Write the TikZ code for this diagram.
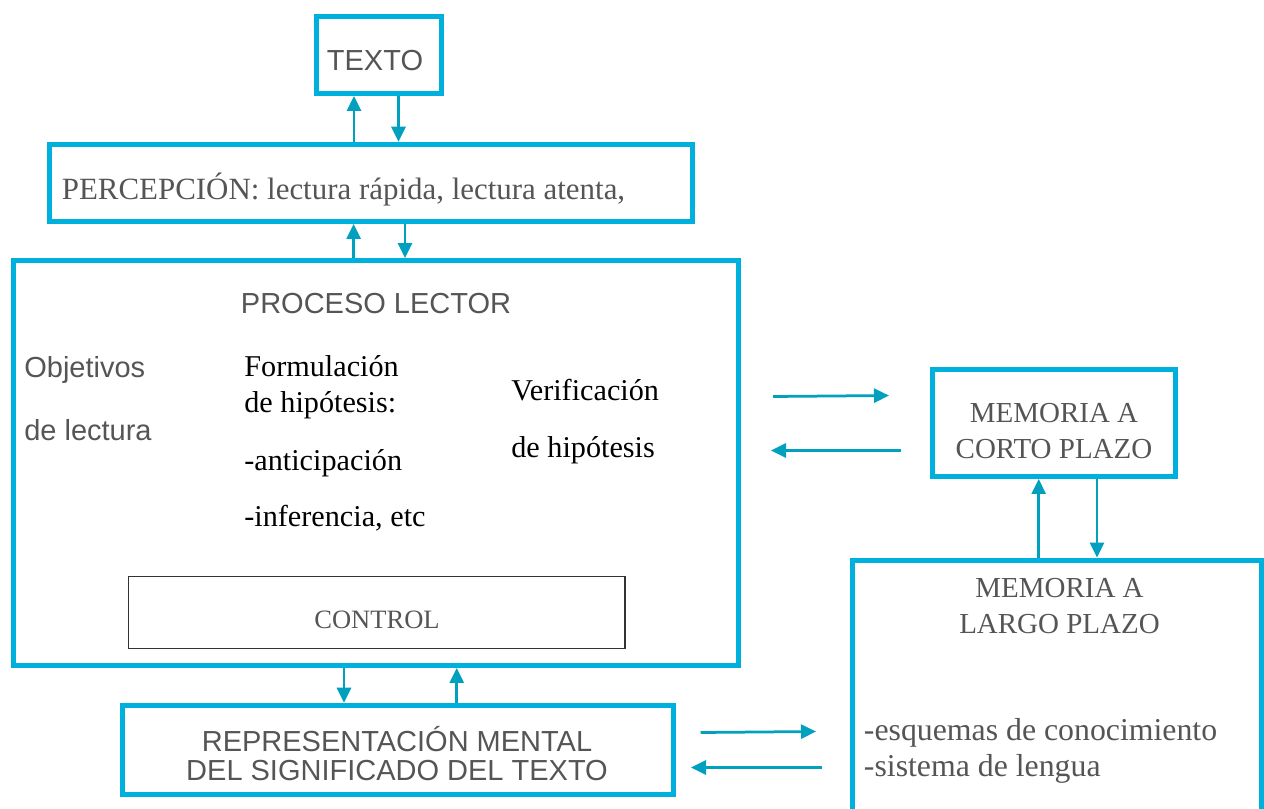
\documentclass[tikz,border=0pt]{standalone}
\usepackage{fontspec}
\setmainfont{Liberation Serif}
\setsansfont{Liberation Sans}
\usetikzlibrary{arrows.meta}
\definecolor{boxc}{RGB}{0,176,220}
\definecolor{arrc}{RGB}{0,160,190}
\definecolor{txtg}{RGB}{85,85,85}
\begin{document}
\begin{tikzpicture}[x=0.02cm,y=-0.02cm,
  bigbox/.style={draw=boxc,line width=0.1cm,inner sep=0pt},
  thinbox/.style={draw=black!80,line width=0.03cm,inner sep=0pt},
  arr/.style={draw=arrc,line width=0.055cm,-{Triangle[length=0.3cm,width=0.28cm]}},
  sanst/.style={font=\sffamily\fontsize{16.5}{20}\selectfont,text=txtg,inner sep=0pt},
  serb/.style={font=\fontsize{17.2}{20}\selectfont,text=black,inner sep=0pt},
  serg/.style={font=\fontsize{#1}{20}\selectfont,text=txtg,inner sep=0pt},
  serg/.default=17]
\useasboundingbox (0,0) rectangle (1264,808);
\clip (0,0) rectangle (1264,808);
% boxes
\node[bigbox,minimum width=2.50cm,minimum height=1.54cm] (texto) at (379,55) {};
\node[bigbox,minimum width=12.86cm,minimum height=1.546cm] (percep) at (371,182.85) {};
\node[bigbox,minimum width=14.51cm,minimum height=8.10cm] (proceso) at (375.75,463) {};
\node[thinbox,minimum width=9.93cm,minimum height=1.44cm] (control) at (376.75,612.7) {};
\node[bigbox,minimum width=11.02cm,minimum height=1.792cm] (repr) at (398,750) {};
\node[bigbox,minimum width=4.87cm,minimum height=2.146cm] (corto) at (1053.75,422.85) {};
\node[bigbox,minimum width=8.18cm,minimum height=5.80cm] (largo) at (1057,705) {};
% texts
\node[sanst,anchor=base] (ttexto) at (375,70) {TEXTO};
\node[serg=17.6,anchor=base west] (tpercep) at (61.5,199.3) {PERCEPCIÓN: lectura rápida, lectura atenta,};
\node[sanst,anchor=base] (tproc) at (376,313) {PROCESO LECTOR};
\node[sanst,anchor=base west] (tobj1) at (24,377) {Objetivos};
\node[sanst,anchor=base west] (tobj2) at (24,440) {de lectura};
\node[serb,anchor=base west] (tf1) at (244,376) {Formulación};
\node[serb,anchor=base west] (tf2) at (244,412.7) {de hipótesis:};
\node[serb,anchor=base west] (tf3) at (244,470) {-anticipación};
\node[serb,anchor=base west] (tf4) at (244,526.7) {-inferencia, etc};
\node[serb,anchor=base west] (tv1) at (511,400.7) {Verificación};
\node[serb,anchor=base west] (tv2) at (511,457) {de hipótesis};
\node[serg=15.1,anchor=base] (tcontrol) at (377,628) {CONTROL};
\node[sanst,anchor=base] (tr1) at (397,751.7) {REPRESENTACIÓN MENTAL};
\node[sanst,anchor=base] (tr2) at (397,780.7) {DEL SIGNIFICADO DEL TEXTO};
\node[serg=16.5,anchor=base] (tc1) at (1054,422.7) {MEMORIA A};
\node[serg=16.5,anchor=base] (tc2) at (1054,458.3) {CORTO PLAZO};
\node[serg=16.5,anchor=base] (tl1) at (1059.5,597.3) {MEMORIA A};
\node[serg=16.5,anchor=base] (tl2) at (1059.5,633.3) {LARGO PLAZO};
\node[serg=18.1,anchor=base west] (tl3) at (863.6,740) {-esquemas de conocimiento};
\node[serg=18.1,anchor=base west] (tl4) at (863.6,776) {-sistema de lengua};
% connector x positions
\coordinate (x1) at (354,0);
\coordinate (x2) at (398.5,0);
\coordinate (x3) at (353.6,0);
\coordinate (x4) at (405,0);
\coordinate (x5) at (344,0);
\coordinate (x6) at (456.7,0);
\coordinate (x7) at (1038.7,0);
\coordinate (x8) at (1097,0);
% vertical connectors
\draw[arr] (percep.north -| x1) -- (texto.south -| x1);
\draw[arr] (texto.south -| x2) -- (percep.north -| x2);
\draw[arr] (proceso.north -| x3) -- (percep.south -| x3);
\draw[arr] (percep.south -| x4) -- (proceso.north -| x4);
\draw[arr] (proceso.south -| x5) -- (repr.north -| x5);
\draw[arr] (repr.north -| x6) -- (proceso.south -| x6);
\draw[arr] (largo.north -| x7) -- (corto.south -| x7);
\draw[arr] (corto.south -| x8) -- (largo.north -| x8);
% free horizontal connectors
\coordinate (h1a) at (773,396.5);
\coordinate (h1b) at (889,395.5);
\coordinate (h2a) at (901,450.5);
\coordinate (h2b) at (771,450.5);
\coordinate (h3a) at (700.5,732.5);
\coordinate (h3b) at (816,731.5);
\coordinate (h4a) at (821.5,767.5);
\coordinate (h4b) at (691,767.5);
\draw[arr] (h1a) -- (h1b);
\draw[arr] (h2a) -- (h2b);
\draw[arr] (h3a) -- (h3b);
\draw[arr] (h4a) -- (h4b);
\end{tikzpicture}
\end{document}
